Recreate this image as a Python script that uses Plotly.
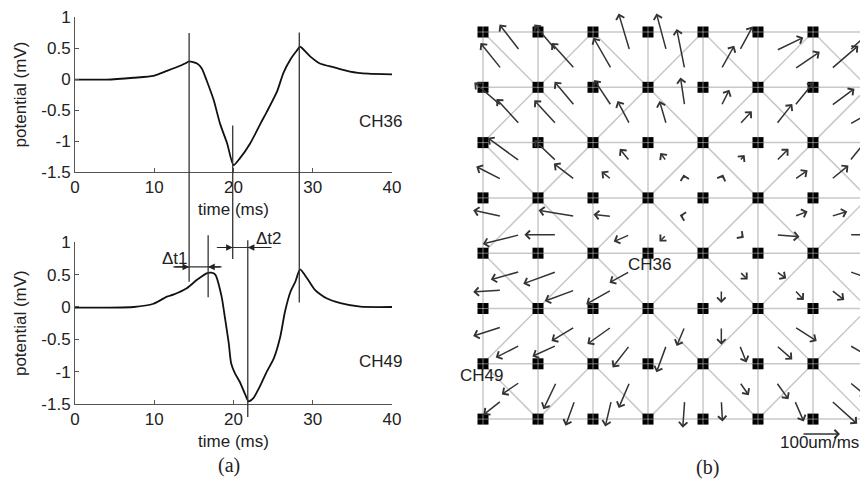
import plotly.graph_objects as go

# page is 868x483; the browser body has an 8px margin, so the figure is 860x475
PAGE_W, PAGE_H = 868, 483
OFF = 8
W, H = PAGE_W - OFF, PAGE_H - OFF

# ---------------- panel (a): electrograms ----------------
T36 = [0, 4, 7.4, 9.9, 11.6, 12.8, 13.9, 14.4, 15.4, 16.0, 16.6, 17.5, 18.3, 19.2, 20.0,
       20.8, 22.1, 23.4, 24.2, 25.5, 26.3, 27.2, 28.0, 28.4, 29.7, 30.9, 32.6, 34.7, 37.0, 40]
V36 = [-0.01, -0.01, 0.02, 0.05, 0.13, 0.19, 0.25, 0.285, 0.25, 0.17, -0.02, -0.34, -0.72, -1.04, -1.39,
       -1.28, -1.04, -0.72, -0.53, -0.2, 0.1, 0.32, 0.46, 0.52, 0.36, 0.25, 0.19, 0.12, 0.086, 0.075]

T49 = [0, 4, 7.4, 9.9, 11.6, 12.4, 14.1, 15.4, 16.6, 17.2, 17.7, 18.5, 18.9, 19.4, 19.7, 20.2,
       20.8, 21.5, 21.9, 22.5, 23.4, 24.2, 25.1, 25.9, 26.5, 27.2, 27.8, 28.4, 29.3, 30.3, 31.8,
       33.5, 36, 40]
V49 = [-0.01, -0.01, 0.0, 0.05, 0.16, 0.19, 0.29, 0.42, 0.52, 0.53, 0.5, 0.16, -0.15, -0.56, -0.87, -1.03,
       -1.16, -1.36, -1.46, -1.41, -1.21, -1.0, -0.79, -0.46, -0.07, 0.24, 0.39, 0.58, 0.44, 0.26, 0.13,
       0.06, 0.005, 0.0]

X_TICKS = [0, 10, 20, 30, 40]
Y_TICKS = [1, 0.5, 0, -0.5, -1, -1.5]
Y_TICK_TEXT = ["1", "0.5", "0", "-0.5", "-1", "-1.5"]

# activation markers (ms); vertical extent given in mV of the CH36 (top) / CH49 (bottom) panels
MARK36_T = [14.4, 19.9, 28.3]
MARK36_FROM_TOP = [0.74, -0.75, 0.75]
MARK36_TO_BOT = [0.39, 0.74, 0.07]
MARK49_T = [16.8, 21.8]
MARK49_FROM = [1.11, 1.03]
MARK49_TO = [0.15, -1.7]

# delay brackets (bottom panel units)
DT_TEXT = ["\u0394t1", "\u0394t2"]
DT_LEVEL = [0.62, 0.92]
DT_HEAD_L = [14.4, 19.9]
DT_HEAD_R = [16.8, 21.8]
DT_TAIL_L = [12.4, 17.9]
DT_TAIL_R = [18.5, 24.8]
DT_LABEL_T = [12.6, 24.5]
DT_LABEL_V = [0.757, 1.066]

# ---------------- panel (b): conduction-velocity map ----------------
N_COLS, N_ROWS = 8, 8
# velocity per triangle (um/ms); each row: for each cell, [upper triangle, lower triangle]
# VY positive = towards higher row index (down in the picture)
VX = [
    [-53, -55, -58, -61, -29, -47, -26, -21, 34, 34, 71, 66, 58, 71],
    [-71, -61, -53, -58, -45, -32, -11, -18, 21, 32, 50, 42, 61, 58],
    [-84, -66, -58, -55, -26, -26, -16, -3, 13, 5, 32, 34, 47, 45],
    [-74, -97, -95, -84, -47, -42, -13, -18, None, 11, 34, 61, 42, 53],
    [-76, -74, -87, -79, -53, -66, 8, -8, 21, 0, 26, 24, 45, 34],
    [-74, -63, -61, -63, -63, -45, -21, -26, 0, 18, 58, 42, None, 58],
    [-47, -47, -34, -24, -29, -16, None, -5, 24, 3, 32, 24, 45, 68],
]
VY = [
    [-68, -68, -68, -68, -97, -82, -97, -105, -63, -61, -34, -45, -53, -61],
    [-61, -66, -63, -63, -68, -61, -74, -61, -42, -34, -61, -53, -45, -32],
    [-61, -34, -55, -42, -32, -21, -21, -13, -16, -13, -32, -24, -58, -37],
    [-16, 24, -16, 0, -5, 18, -3, 18, None, 8, -13, 5, -13, 0],
    [21, 5, 32, 29, 29, 37, 5, 8, 21, 34, 18, 26, 16, 26],
    [24, 32, 37, 29, 45, 58, 50, 71, 47, 45, 37, 37, None, 34],
    [32, 37, 71, 66, 68, 68, None, 71, 34, 55, 45, 55, 37, 61],
]
SCALE_SPEED = 100  # um/ms
SCALE_LABEL = "100um/ms"
CH_LABELS = ["CH36", "CH49"]

# ---------------- geometry / style ----------------
COL_PX, ROW_PX = 55.0, 55.3
PX_PER_SPEED = 0.38
X0_PX, Y0_PX = 483.0, 32.0   # page pixel of electrode (0, 0)

FONT = "Liberation Sans, Arial, Helvetica, sans-serif"
SERIF = "Liberation Serif, Times New Roman, serif"
FS = 17
AXC = "#555"
TXT = "#222"


def px_x(px):
    return (px - OFF) / W


def px_y(py):
    return 1 - (py - OFF) / H


XDOM = [px_x(75), px_x(392)]
TOP_DOM = [px_y(172), px_y(17)]
BOT_DOM = [px_y(404), px_y(242.3)]


def p_top(v):
    return TOP_DOM[0] + (v + 1.5) / 2.5 * (TOP_DOM[1] - TOP_DOM[0])


def p_bot(v):
    return BOT_DOM[0] + (v + 1.5) / 2.5 * (BOT_DOM[1] - BOT_DOM[0])


def txt(**kw):
    d = dict(showarrow=False, xanchor="center", yanchor="middle",
             font=dict(family=FONT, size=FS, color=TXT))
    d.update(kw)
    return d


fig = go.Figure()
fig.add_trace(go.Scatter(x=T36, y=V36, xaxis="x", yaxis="y", mode="lines",
                         line=dict(color="#111", width=1.8, shape="spline", smoothing=0.6), hoverinfo="skip"))
fig.add_trace(go.Scatter(x=T49, y=V49, xaxis="x2", yaxis="y2", mode="lines",
                         line=dict(color="#111", width=1.8, shape="spline", smoothing=0.6), hoverinfo="skip"))

# lattice
gx, gy = [], []
for j in range(N_ROWS):
    gx += [0, N_COLS - 1, None]
    gy += [j, j, None]
for i in range(N_COLS):
    gx += [i, i, None]
    gy += [0, N_ROWS - 1, None]
for cj in range(N_ROWS - 1):
    for ci in range(N_COLS - 1):
        if (ci + cj) % 2 == 0:
            gx += [ci, ci + 1, None]
        else:
            gx += [ci + 1, ci, None]
        gy += [cj, cj + 1, None]
fig.add_trace(go.Scatter(x=gx, y=gy, xaxis="x3", yaxis="y3", mode="lines",
                         line=dict(color="#c8c8c8", width=1.5), hoverinfo="skip"))

nx = [i for j in range(N_ROWS) for i in range(N_COLS)]
ny = [j for j in range(N_ROWS) for i in range(N_COLS)]
fig.add_trace(go.Scatter(x=nx, y=ny, xaxis="x3", yaxis="y3", mode="markers",
                         marker=dict(symbol="square", size=11, color="black"), hoverinfo="skip"))
fig.add_trace(go.Scatter(x=nx, y=ny, xaxis="x3", yaxis="y3", mode="markers",
                         marker=dict(symbol="cross-thin", size=8, line=dict(color="rgba(255,255,255,0.45)", width=1)),
                         hoverinfo="skip"))

ann = []
shapes = []

# activation lines spanning both electrograms
for t, a, b in zip(MARK36_T, MARK36_FROM_TOP, MARK36_TO_BOT):
    shapes.append(dict(type="line", xref="x", yref="paper", x0=t, x1=t, y0=p_top(a), y1=p_bot(b),
                       line=dict(color="#333", width=1.3)))
for t, a, b in zip(MARK49_T, MARK49_FROM, MARK49_TO):
    shapes.append(dict(type="line", xref="x2", yref="paper", x0=t, x1=t, y0=p_bot(a), y1=p_bot(b),
                       line=dict(color="#333", width=1.3)))

for k in range(2):
    shapes.append(dict(type="line", xref="x2", yref="y2", x0=DT_TAIL_L[k], x1=DT_TAIL_R[k],
                       y0=DT_LEVEL[k], y1=DT_LEVEL[k], line=dict(color="#333", width=1.1)))
    for head, tail in ((DT_HEAD_L[k], DT_TAIL_L[k]), (DT_HEAD_R[k], DT_TAIL_R[k])):
        ann.append(dict(x=head, y=DT_LEVEL[k], ax=tail, ay=DT_LEVEL[k], xref="x2", yref="y2",
                        axref="x2", ayref="y2", text="", showarrow=True, arrowhead=2,
                        arrowsize=1.2, arrowwidth=1.1, arrowcolor="#222", standoff=0))
    ann.append(txt(x=DT_LABEL_T[k], y=p_bot(DT_LABEL_V[k]), xref="x2", yref="paper", text=DT_TEXT[k]))

ann.append(txt(x=38.5, y=-0.68, xref="x", yref="y", text="CH36"))
ann.append(txt(x=38.5, y=-0.84, xref="x2", yref="y2", text="CH49"))

# velocity arrows from triangle centroids
sx = PX_PER_SPEED / COL_PX
sy = PX_PER_SPEED / ROW_PX
for cj in range(N_ROWS - 1):
    for ci in range(N_COLS - 1):
        if (ci + cj) % 2 == 0:
            cents = [(ci + 2 / 3, cj + 1 / 3), (ci + 1 / 3, cj + 2 / 3)]
        else:
            cents = [(ci + 1 / 3, cj + 1 / 3), (ci + 2 / 3, cj + 2 / 3)]
        for k in range(2):
            vx = VX[cj][2 * ci + k]
            vy = VY[cj][2 * ci + k]
            if vx is None:
                continue
            x0, y0 = cents[k]
            ann.append(dict(x=x0 + vx * sx, y=y0 + vy * sy, ax=x0, ay=y0,
                            xref="x3", yref="y3", axref="x3", ayref="y3", text="",
                            showarrow=True, arrowhead=4, arrowsize=1.1, arrowwidth=1.5,
                            arrowcolor="#333", standoff=0))

# scale arrow
bx, by = 5.8, 7.27
ann.append(dict(x=bx + SCALE_SPEED * sx, y=by, ax=bx, ay=by, xref="x3", yref="y3",
                axref="x3", ayref="y3", text="", showarrow=True, arrowhead=4, arrowsize=1.1,
                arrowwidth=1.5, arrowcolor="#333", standoff=0))
ann.append(txt(x=5.36, y=7.43, xref="x3", yref="y3", text=SCALE_LABEL, xanchor="left"))
ann.append(txt(x=3.02, y=4.21, xref="x3", yref="y3", text=CH_LABELS[0]))
ann.append(txt(x=-0.03, y=6.22, xref="x3", yref="y3", text=CH_LABELS[1]))

ann.append(txt(x=px_x(229), y=px_y(465), xref="paper", yref="paper", text="(a)",
               font=dict(family=SERIF, size=20, color=TXT)))
ann.append(txt(x=px_x(707), y=px_y(467), xref="paper", yref="paper", text="(b)",
               font=dict(family=SERIF, size=20, color=TXT)))

tickfont = dict(family=FONT, size=FS, color=TXT)


def xax(anchor):
    return dict(domain=XDOM, range=[0, 40], tickvals=X_TICKS, ticks="inside", ticklen=4,
                tickcolor=AXC, showline=True, linecolor=AXC, linewidth=1, showgrid=False,
                zeroline=False, tickfont=tickfont, anchor=anchor, automargin=False,
                ticklabeloverflow="allow",
                title=dict(text="time (ms)", font=tickfont, standoff=6))


def yax(dom, anchor):
    return dict(domain=dom, range=[-1.5, 1], tickvals=Y_TICKS, ticktext=Y_TICK_TEXT, ticks="inside",
                ticklen=4, tickcolor=AXC, showline=True, linecolor=AXC, linewidth=1, showgrid=False,
                zeroline=False, tickfont=tickfont, anchor=anchor, automargin=False,
                ticklabeloverflow="allow",
                title=dict(text="potential (mV)", font=tickfont, standoff=10))


fig.update_layout(
    template="none",
    width=W, height=H, margin=dict(l=0, r=0, t=0, b=0, pad=0), autosize=False,
    paper_bgcolor="white", plot_bgcolor="rgba(0,0,0,0)", showlegend=False,
    xaxis=xax("y"), yaxis=yax(TOP_DOM, "x"),
    xaxis2=xax("y2"), yaxis2=yax(BOT_DOM, "x2"),
    xaxis3=dict(domain=[px_x(434), 1.0], range=[(434 - X0_PX) / COL_PX, (PAGE_W - X0_PX) / COL_PX],
                visible=False, anchor="y3", automargin=False),
    yaxis3=dict(domain=[0, 1], range=[(PAGE_H - Y0_PX) / ROW_PX, (OFF - Y0_PX) / ROW_PX],
                visible=False, anchor="x3", automargin=False),
    annotations=ann, shapes=shapes,
)

fig.write_html("out.html")
